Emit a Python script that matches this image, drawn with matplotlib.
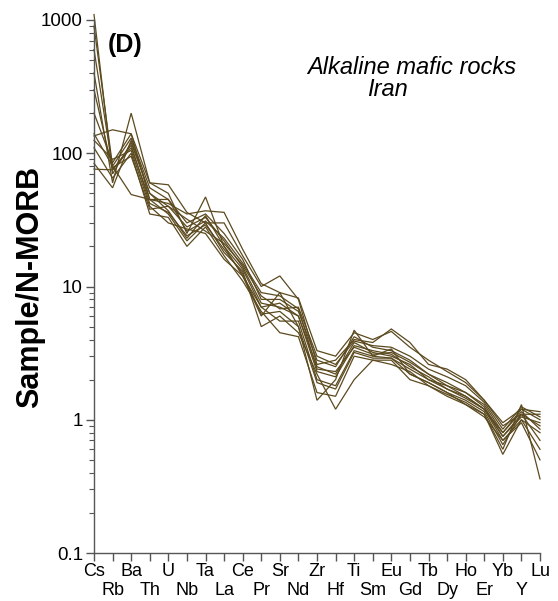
import matplotlib
matplotlib.use("Agg")
import matplotlib.pyplot as plt
from matplotlib.ticker import FixedLocator, LogLocator, NullFormatter

plt.rcParams['font.family'] = ['Liberation Sans', 'DejaVu Sans']

elements = ["Cs", "Rb", "Ba", "Th", "U", "Nb", "Ta", "La", "Ce", "Pr", "Sr", "Nd",
            "Zr", "Hf", "Ti", "Sm", "Eu", "Gd", "Tb", "Dy", "Ho", "Er", "Yb", "Y", "Lu"]

# N-MORB normalised trace-element patterns, one list per sample
s01 = [1100, 70, 120, 50, 40, 28, 33, 22, 14, 7.5, 7, 6, 2.5, 2.2, 3.8, 3.2, 3.0, 2.6, 2.0, 1.8, 1.5, 1.2, 0.75, 1.1, 0.9]
s02 = [900, 80, 130, 55, 45, 30, 35, 25, 16, 8, 8, 6.5, 2.8, 2.5, 4.2, 3.5, 3.3, 2.8, 2.2, 1.9, 1.6, 1.3, 0.8, 1.2, 1.0]
s03 = [400, 60, 200, 60, 50, 25, 47, 20, 12, 6, 9, 5, 1.4, 2.0, 4.7, 3.0, 3.4, 2.2, 1.9, 1.6, 1.3, 1.1, 0.6, 1.3, 0.36]
s04 = [300, 75, 110, 45, 35, 22, 30, 18, 13, 5, 6, 4.5, 2.2, 1.2, 2.0, 2.8, 2.8, 2.0, 1.8, 1.5, 1.3, 1.05, 0.7, 1.0, 0.8]
s05 = [200, 85, 140, 45, 42, 35, 37, 36, 19, 10.5, 9, 8.2, 3.3, 3.0, 4.5, 4.0, 4.6, 3.5, 2.8, 2.3, 1.9, 1.4, 0.95, 1.2, 1.15]
s06 = [135, 150, 140, 60, 58, 36, 30, 30, 17, 10, 12, 8, 2.6, 2.8, 4.0, 3.8, 4.8, 3.8, 2.6, 2.4, 2.0, 1.4, 0.9, 1.1, 1.1]
s07 = [125, 90, 105, 40, 30, 27, 25, 16, 12, 7, 5.5, 5.5, 2.0, 1.8, 3.3, 3.0, 2.9, 2.2, 1.9, 1.6, 1.4, 1.15, 0.65, 1.1, 0.7]
s08 = [110, 65, 100, 35, 33, 20, 28, 17, 11, 6.5, 4.5, 4.2, 1.6, 1.5, 3.0, 2.8, 2.6, 2.3, 1.8, 1.55, 1.35, 1.1, 0.55, 1.0, 0.6]
s09 = [84, 55, 125, 50, 37, 23, 34, 20, 13.5, 7, 7.5, 6, 2.3, 2.1, 3.6, 3.3, 3.1, 2.5, 2.1, 1.7, 1.5, 1.2, 0.8, 1.15, 0.85]
s10 = [76, 75, 115, 42, 36, 24, 29, 19, 12.5, 6.2, 6.5, 5.0, 1.9, 1.7, 3.2, 2.9, 2.9, 2.4, 2.0, 1.7, 1.45, 1.2, 0.7, 0.95, 0.5]
s11 = [600, 78, 95, 38, 40, 32, 26, 21, 14.5, 8.5, 6.8, 7.0, 3.0, 2.6, 3.9, 3.6, 3.5, 3.0, 2.4, 2.1, 1.8, 1.35, 0.85, 1.25, 1.05]
s12 = [140, 80, 49, 45, 45, 26, 31, 23, 15, 9, 8.5, 6.8, 2.4, 2.3, 3.5, 3.1, 3.2, 2.7, 2.2, 1.8, 1.6, 1.25, 0.75, 1.05, 0.95]
samples = [s01, s02, s03, s04, s05, s06, s07, s08, s09, s10, s11, s12]

line_color = "#5c4a1f"
axis_color = "#555555"

fig = plt.figure(figsize=(5.58, 6.01), dpi=100)
ax = fig.add_axes([94 / 558, 48 / 601, 446 / 558, 533 / 601])

x = list(range(len(elements)))
for s in samples:
    ax.plot(x, s, color=line_color, lw=0.9, clip_on=False, solid_joinstyle="miter")

ax.set_yscale("log")
ax.set_ylim(0.1, 1000)
ax.set_xlim(0, len(elements) - 1)

for side in ("top", "right"):
    ax.spines[side].set_visible(False)
for side in ("left", "bottom"):
    ax.spines[side].set_color(axis_color)
    ax.spines[side].set_linewidth(1.0)

ax.yaxis.set_major_locator(FixedLocator([0.1, 1, 10, 100, 1000]))
ax.set_yticklabels(["0.1", "1", "10", "100", "1000"])
ax.yaxis.set_minor_locator(LogLocator(base=10, subs=range(2, 10)))
ax.yaxis.set_minor_formatter(NullFormatter())
ax.tick_params(axis="y", which="major", length=6, width=1, color=axis_color,
               labelsize=13.5, pad=2)
ax.tick_params(axis="y", which="minor", length=3.5, width=0.8, color=axis_color)

ax.set_xticks(x)
ax.set_xticklabels(elements)
ax.tick_params(axis="x", length=6, width=1, color=axis_color, labelsize=13)
for i, t in enumerate(ax.xaxis.get_major_ticks()):
    t.set_pad(1 if i % 2 == 0 else 15)

ax.set_ylabel("Sample/N-MORB", fontsize=22, fontweight="bold", labelpad=-3)

ax.text(0.031, 0.953, "(D)", transform=ax.transAxes, fontsize=18,
        fontweight="bold", va="center", ha="left")
ax.text(0.713, 0.910, "Alkaline mafic rocks", transform=ax.transAxes,
        fontsize=17, style="italic", ha="center", va="center")
ax.text(0.659, 0.870, "Iran", transform=ax.transAxes,
        fontsize=17, style="italic", ha="center", va="center")

fig.savefig("out.png", dpi=100)
